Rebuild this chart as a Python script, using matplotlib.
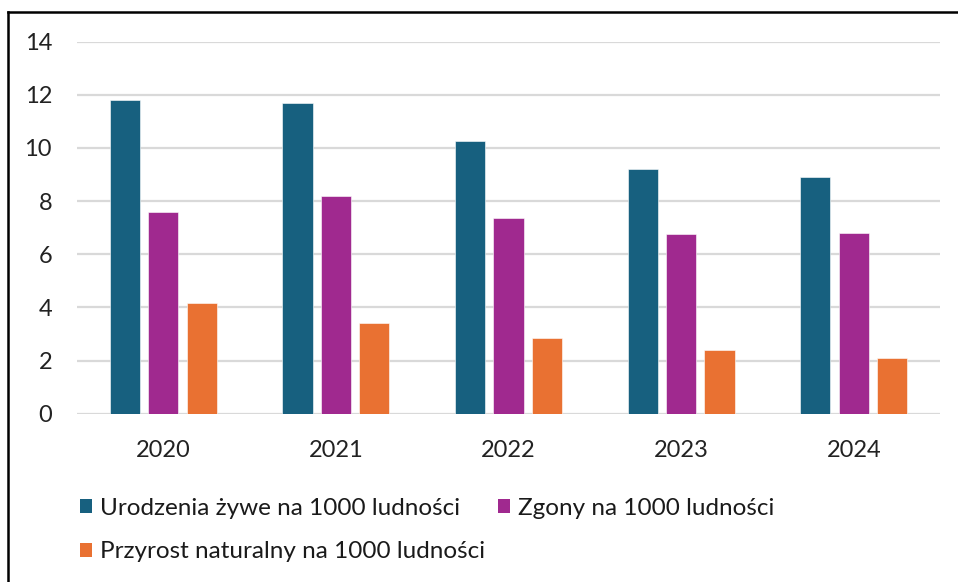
import matplotlib
matplotlib.use("Agg")
import matplotlib.pyplot as plt
from matplotlib.lines import Line2D
from matplotlib.patches import Patch
import numpy as np

plt.rcParams["font.family"] = ["Lato", "DejaVu Sans"]

years = ["2020", "2021", "2022", "2023", "2024"]
births = [11.8, 11.7, 10.25, 9.2, 8.9]
deaths = [7.6, 8.2, 7.35, 6.75, 6.8]
increase = [4.15, 3.4, 2.85, 2.4, 2.1]

labels = ["Urodzenia żywe na 1000 ludności",
          "Zgony na 1000 ludności",
          "Przyrost naturalny na 1000 ludności"]
colors = ["#17607F", "#A0298F", "#E97132"]
yticks = [0, 2, 4, 6, 8, 10, 12, 14]

W, H = 958, 582
fig = plt.figure(figsize=(W / 100, H / 100), dpi=100)
ax = fig.add_axes([77 / W, 1 - 413.7 / H, (940 - 77) / W, (413.7 - 41.7) / H])

x = np.arange(len(years))
width = 0.175
step = 0.222
for k, (vals, col) in enumerate(zip([births, deaths, increase], colors)):
    ax.bar(x + (k - 1) * step, vals, width, color=col,
           edgecolor="#ffffff", linewidth=0.4, zorder=3)

ax.set_xlim(-0.5, len(years) - 0.5)
ax.set_ylim(0, 14)
ax.set_yticks(yticks)
ax.set_xticks(x)
ax.set_xticklabels(years)
ax.tick_params(axis="both", length=0, labelsize=17, colors="#222222")
ax.tick_params(axis="y", pad=18)
ax.tick_params(axis="x", pad=19)
ax.grid(axis="y", color="#D9D9D9", linewidth=1.6, zorder=0)
for s in ax.spines.values():
    s.set_visible(False)

handles = [Patch(facecolor=c, label=l) for c, l in zip(colors, labels)]
order = [0, 2, 1]
fig.legend([handles[i] for i in order], [labels[i] for i in order],
           ncol=2, loc="upper left", bbox_to_anchor=(80 / W, 1 - 498 / H),
           frameon=False, fontsize=17.5, handlelength=0.5, handleheight=0.5,
           handletextpad=0.33, columnspacing=0.53, labelspacing=0.92,
           borderaxespad=0, borderpad=0, labelcolor="#1a1a1a")

# outer frame (left and top edges only are in view)
fig.add_artist(Line2D([8 / W, 8 / W], [0, 1 - 12 / H], color="black",
                      linewidth=1.8, transform=fig.transFigure))
fig.add_artist(Line2D([8 / W, 1], [1 - 12 / H, 1 - 12 / H], color="black",
                      linewidth=1.8, transform=fig.transFigure))

fig.savefig("out.png", dpi=100)
